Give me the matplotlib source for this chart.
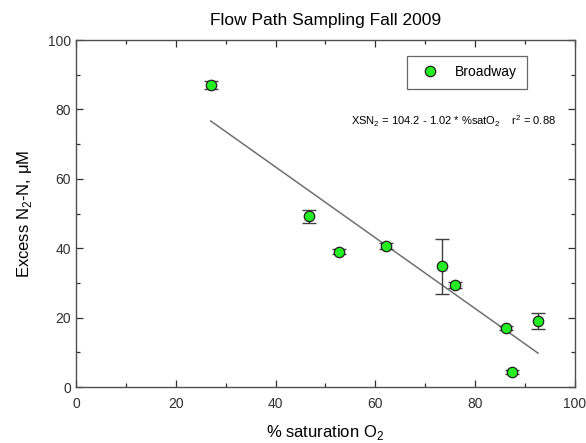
import matplotlib.pyplot as plt
import numpy as np

plt.rcParams['font.family'] = ['Liberation Sans', 'DejaVu Sans']
plt.rcParams['mathtext.fontset'] = 'custom'
plt.rcParams['mathtext.rm'] = 'Liberation Sans'

# Broadway site: % saturation O2 vs excess N2-N (uM)
sat_o2 = [27.0, 46.7, 52.8, 62.1, 73.4, 76.0, 86.2, 87.4, 92.6]
excess_n2 = [87.0, 49.2, 39.0, 40.6, 34.8, 29.4, 16.9, 4.3, 19.0]
excess_err = [1.2, 1.8, 0.8, 0.8, 7.9, 0.8, 0.6, 0.6, 2.4]

fit_intercept = 104.2
fit_slope = -1.02

fig = plt.figure(figsize=(5.86, 4.43), dpi=100)
ax = fig.add_axes([0.1297, 0.1264, 0.8515, 0.7833])

xfit = np.array([min(sat_o2), max(sat_o2)])
ax.plot(xfit, fit_intercept + fit_slope * xfit, color='#707070', linewidth=1.1, zorder=1)

ax.errorbar(sat_o2, excess_n2, yerr=excess_err, fmt='none', ecolor='#404040',
            elinewidth=1.0, capsize=5, capthick=1.0, zorder=2)
ax.plot(sat_o2, excess_n2, 'o', markersize=7.5, markerfacecolor='#22ee22',
        markeredgecolor='#202020', markeredgewidth=0.9, linestyle='none',
        label='Broadway', zorder=3)

ax.set_xlim(0, 100)
ax.set_ylim(0, 100)
ax.set_xticks([0, 20, 40, 60, 80, 100])
ax.set_yticks([0, 20, 40, 60, 80, 100])
ax.set_xticks(np.arange(10, 100, 20), minor=True)
ax.set_yticks(np.arange(10, 100, 20), minor=True)
ax.tick_params(which='both', direction='in', top=True, right=True,
               labelsize=10, colors='#303030', width=0.9)
ax.tick_params(which='major', length=5)
ax.tick_params(which='minor', length=3)
ax.tick_params(axis='x', pad=7)
for s in ax.spines.values():
    s.set_color('#505050')
    s.set_linewidth(1.0)

ax.set_xlabel('% saturation O$_2$', fontsize=12, labelpad=9)
ax.set_ylabel('Excess N$_2$-N, \u03bcM', fontsize=12, labelpad=10)
ax.set_title('Flow Path Sampling Fall 2009', fontsize=12.5, pad=11)

leg = ax.legend(loc='upper right', bbox_to_anchor=(0.904, 0.955), fontsize=10,
                frameon=True, fancybox=False, edgecolor='#404040',
                borderpad=0.7, handletextpad=0.8, borderaxespad=0)
leg.get_frame().set_linewidth(0.9)

ax.text(0.962, 0.766, 'XSN$_2$ = 104.2 - 1.02 * %satO$_2$    r$^2$ = 0.88',
        transform=ax.transAxes, ha='right', va='center', fontsize=8)

fig.savefig('out.png', dpi=100)
